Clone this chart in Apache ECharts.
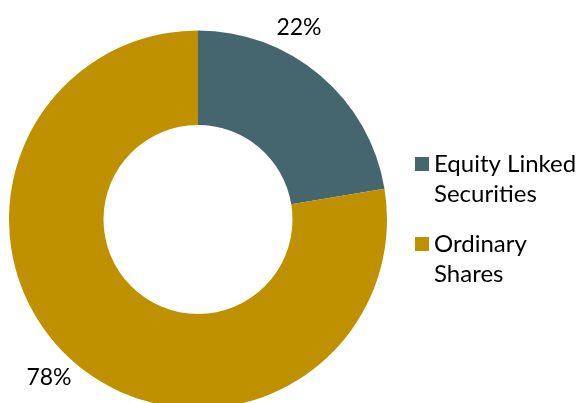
<!DOCTYPE html>
<html>
<head>
<meta charset="utf-8">
<script src="https://cdn.jsdelivr.net/npm/echarts@6/dist/echarts.min.js"></script>
<style>
html,body{margin:0;padding:0;background:#fff;}
#c{width:581px;height:403px;}
</style>
</head>
<body>
<div id="c"></div>
<script>
const categories = ['Equity Linked Securities', 'Ordinary Shares'];
const legendLabels = ['Equity Linked\nSecurities', 'Ordinary\nShares'];
const values = [22.4, 77.6];
const colors = ['#45666E', '#BF9000'];
const labelPos = [[299, 28], [49, 378]];

const chart = echarts.init(document.getElementById('c'));
chart.setOption({
  animation: false,
  backgroundColor: '#ffffff',
  legend: {
    orient: 'vertical',
    left: 415,
    top: 119,
    padding: 0,
    itemWidth: 14,
    itemHeight: 14,
    itemGap: -10,
    icon: 'rect',
    data: categories,
    formatter: function (name) { return '\n' + legendLabels[categories.indexOf(name)]; },
    textStyle: {
      fontFamily: 'Lato',
      fontSize: 24,
      color: '#000',
      lineHeight: 30
    }
  },
  series: [{
    type: 'pie',
    center: [198, 219.5],
    radius: [94.5, 189],
    startAngle: 90,
    clockwise: true,
    data: categories.map((n, i) => ({ name: n, value: values[i], itemStyle: { color: colors[i] } })),
    label: {
      show: true,
      position: 'outside',
      formatter: function (p) { return Math.round(p.percent) + '%'; },
      fontFamily: 'Lato',
      fontSize: 23,
      color: '#000',
      overflow: 'none'
    },
    labelLine: { show: false },
    labelLayout: function (p) {
      const pos = labelPos[p.dataIndex];
      return { x: pos[0], y: pos[1], align: 'center', verticalAlign: 'middle' };
    },
    emphasis: { disabled: true }
  }]
});
</script>
</body>
</html>
